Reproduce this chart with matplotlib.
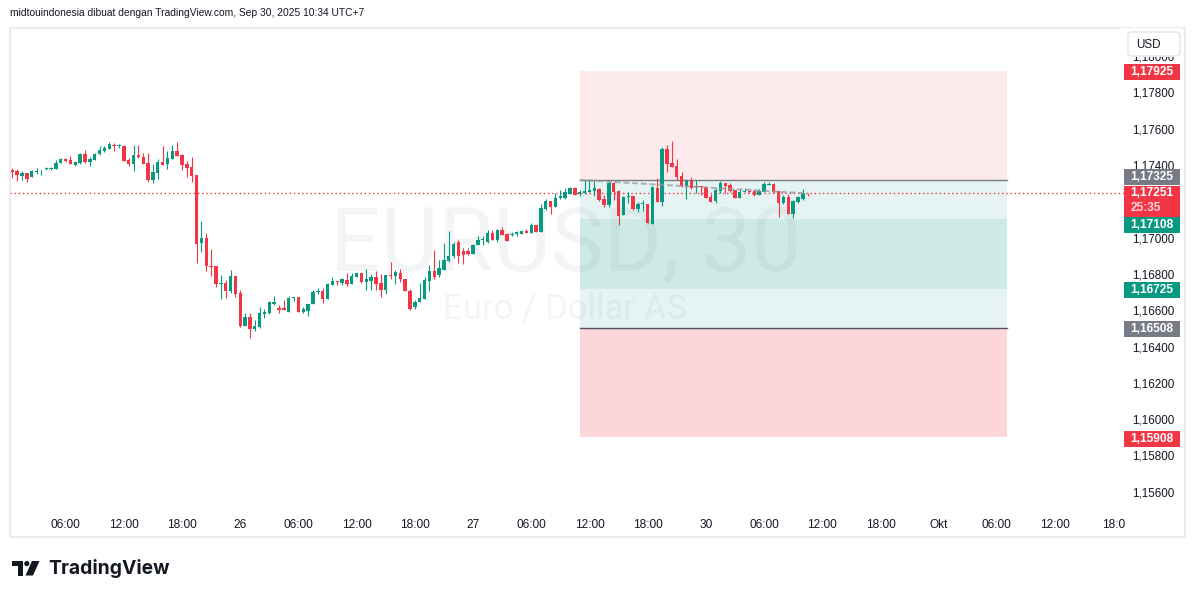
import numpy as np
import matplotlib.pyplot as plt
from matplotlib.patches import Rectangle, FancyBboxPatch, Polygon, Circle

plt.rcParams['font.family'] = ['Liberation Sans', 'DejaVu Sans']

# EURUSD 30 menit, 25 - 30 Sep 2025
open_ = [1.17380, 1.17375, 1.17349, 1.17364, 1.17340, 1.17367, 1.17373, 1.17385, 1.17386, 1.17387,
         1.17417, 1.17440, 1.17437, 1.17408, 1.17417, 1.17468, 1.17424, 1.17435, 1.17466, 1.17483,
         1.17496, 1.17518, 1.17512, 1.17514, 1.17435, 1.17415, 1.17463, 1.17452, 1.17419, 1.17327,
         1.17365, 1.17424, 1.17415, 1.17442, 1.17485, 1.17464, 1.17413, 1.17396, 1.17352, 1.16976,
         1.17006, 1.16853, 1.16851, 1.16752, 1.16758, 1.16716, 1.16796, 1.16703, 1.16523, 1.16571,
         1.16506, 1.16517, 1.16589, 1.16593, 1.16644, 1.16620, 1.16620, 1.16600, 1.16677, 1.16681,
         1.16600, 1.16604, 1.16640, 1.16707, 1.16712, 1.16672, 1.16749, 1.16767, 1.16760, 1.16774,
         1.16752, 1.16793, 1.16813, 1.16763, 1.16769, 1.16793, 1.16758, 1.16721, 1.16804, 1.16796,
         1.16815, 1.16780, 1.16712, 1.16627, 1.16652, 1.16668, 1.16767, 1.16824, 1.16800, 1.16829,
         1.16879, 1.16905, 1.16982, 1.16932, 1.16932, 1.16919, 1.16965, 1.16993, 1.16984, 1.17033,
         1.16992, 1.17048, 1.17028, 1.17024, 1.17029, 1.17029, 1.17046, 1.17035, 1.17077, 1.17040,
         1.17167, 1.17209, 1.17178, 1.17227, 1.17227, 1.17248, 1.17281, 1.17248, 1.17252, 1.17261,
         1.17266, 1.17275, 1.17220, 1.17187, 1.17308, 1.17264, 1.17134, 1.17233, 1.17237, 1.17164,
         1.17191, 1.17193, 1.17084, 1.17281, 1.17205, 1.17496, 1.17419, 1.17402, 1.17347, 1.17292,
         1.17321, 1.17286, 1.17294, 1.17288, 1.17233, 1.17211, 1.17266, 1.17310, 1.17299, 1.17270,
         1.17227, 1.17261, 1.17266, 1.17263, 1.17244, 1.17261, 1.17297, 1.17303, 1.17266, 1.17200,
         1.17233, 1.17136, 1.17205, 1.17222, 1.17255]
high = [1.17389, 1.17384, 1.17376, 1.17364, 1.17382, 1.17389, 1.17382, 1.17395, 1.17397, 1.17435,
        1.17446, 1.17446, 1.17457, 1.17431, 1.17474, 1.17490, 1.17453, 1.17475, 1.17512, 1.17512,
        1.17532, 1.17529, 1.17525, 1.17519, 1.17444, 1.17518, 1.17518, 1.17474, 1.17474, 1.17413,
        1.17441, 1.17512, 1.17485, 1.17519, 1.17534, 1.17470, 1.17430, 1.17452, 1.17352, 1.17099,
        1.17033, 1.16945, 1.16851, 1.16802, 1.16774, 1.16829, 1.16796, 1.16721, 1.16593, 1.16593,
        1.16554, 1.16626, 1.16613, 1.16659, 1.16686, 1.16637, 1.16664, 1.16686, 1.16681, 1.16681,
        1.16624, 1.16642, 1.16719, 1.16729, 1.16730, 1.16758, 1.16791, 1.16767, 1.16785, 1.16813,
        1.16813, 1.16813, 1.16813, 1.16837, 1.16809, 1.16824, 1.16809, 1.16802, 1.16873, 1.16829,
        1.16837, 1.16780, 1.16723, 1.16663, 1.16756, 1.16793, 1.16855, 1.16938, 1.16883, 1.16976,
        1.17044, 1.16982, 1.16993, 1.16949, 1.16949, 1.16974, 1.17015, 1.17015, 1.17050, 1.17050,
        1.17053, 1.17064, 1.17033, 1.17037, 1.17044, 1.17050, 1.17055, 1.17087, 1.17077, 1.17191,
        1.17222, 1.17209, 1.17252, 1.17270, 1.17281, 1.17286, 1.17286, 1.17268, 1.17325, 1.17329,
        1.17318, 1.17281, 1.17242, 1.17325, 1.17314, 1.17270, 1.17237, 1.17261, 1.17237, 1.17204,
        1.17216, 1.17193, 1.17292, 1.17336, 1.17508, 1.17519, 1.17540, 1.17442, 1.17369, 1.17332,
        1.17340, 1.17325, 1.17294, 1.17288, 1.17248, 1.17281, 1.17319, 1.17310, 1.17307, 1.17270,
        1.17274, 1.17281, 1.17266, 1.17274, 1.17274, 1.17314, 1.17314, 1.17310, 1.17266, 1.17244,
        1.17248, 1.17215, 1.17237, 1.17277, 1.17255]
low = [1.17338, 1.17321, 1.17327, 1.17316, 1.17340, 1.17356, 1.17351, 1.17382, 1.17382, 1.17387,
       1.17417, 1.17422, 1.17413, 1.17404, 1.17411, 1.17417, 1.17404, 1.17435, 1.17463, 1.17479,
       1.17496, 1.17486, 1.17503, 1.17431, 1.17404, 1.17376, 1.17448, 1.17415, 1.17314, 1.17307,
       1.17332, 1.17409, 1.17387, 1.17442, 1.17459, 1.17382, 1.17343, 1.17316, 1.16869, 1.16930,
       1.16826, 1.16796, 1.16734, 1.16668, 1.16677, 1.16703, 1.16682, 1.16517, 1.16523, 1.16453,
       1.16494, 1.16512, 1.16567, 1.16589, 1.16639, 1.16594, 1.16611, 1.16600, 1.16660, 1.16600,
       1.16594, 1.16578, 1.16640, 1.16699, 1.16650, 1.16672, 1.16749, 1.16749, 1.16749, 1.16741,
       1.16752, 1.16793, 1.16760, 1.16718, 1.16718, 1.16718, 1.16682, 1.16699, 1.16778, 1.16752,
       1.16765, 1.16712, 1.16607, 1.16613, 1.16652, 1.16668, 1.16712, 1.16778, 1.16789, 1.16829,
       1.16873, 1.16894, 1.16866, 1.16861, 1.16910, 1.16916, 1.16965, 1.16965, 1.16976, 1.16993,
       1.16985, 1.17020, 1.16988, 1.17018, 1.17018, 1.17026, 1.17035, 1.17035, 1.17040, 1.17040,
       1.17161, 1.17139, 1.17178, 1.17222, 1.17222, 1.17248, 1.17244, 1.17237, 1.17248, 1.17257,
       1.17237, 1.17211, 1.17178, 1.17175, 1.17215, 1.17077, 1.17134, 1.17197, 1.17160, 1.17150,
       1.17154, 1.17090, 1.17084, 1.17205, 1.17183, 1.17369, 1.17398, 1.17325, 1.17285, 1.17220,
       1.17275, 1.17256, 1.17242, 1.17227, 1.17205, 1.17200, 1.17255, 1.17255, 1.17261, 1.17227,
       1.17227, 1.17261, 1.17252, 1.17239, 1.17241, 1.17261, 1.17297, 1.17255, 1.17123, 1.17193,
       1.17136, 1.17117, 1.17197, 1.17215, 1.17237]
close = [1.17369, 1.17354, 1.17364, 1.17332, 1.17373, 1.17373, 1.17376, 1.17391, 1.17391, 1.17420,
         1.17440, 1.17431, 1.17413, 1.17424, 1.17468, 1.17424, 1.17440, 1.17468, 1.17490, 1.17499,
         1.17523, 1.17512, 1.17518, 1.17431, 1.17415, 1.17463, 1.17453, 1.17415, 1.17327, 1.17369,
         1.17424, 1.17409, 1.17446, 1.17485, 1.17459, 1.17409, 1.17393, 1.17349, 1.16975, 1.17006,
         1.16853, 1.16848, 1.16754, 1.16756, 1.16716, 1.16796, 1.16699, 1.16523, 1.16571, 1.16506,
         1.16521, 1.16593, 1.16600, 1.16653, 1.16653, 1.16609, 1.16611, 1.16677, 1.16681, 1.16600,
         1.16613, 1.16642, 1.16708, 1.16716, 1.16672, 1.16752, 1.16769, 1.16763, 1.16780, 1.16752,
         1.16796, 1.16813, 1.16765, 1.16780, 1.16793, 1.16752, 1.16721, 1.16802, 1.16798, 1.16818,
         1.16778, 1.16712, 1.16613, 1.16652, 1.16675, 1.16773, 1.16824, 1.16789, 1.16839, 1.16883,
         1.16907, 1.16973, 1.16905, 1.16910, 1.16919, 1.16969, 1.16995, 1.16999, 1.17033, 1.16993,
         1.17048, 1.17020, 1.16991, 1.17029, 1.17037, 1.17046, 1.17035, 1.17077, 1.17040, 1.17171,
         1.17209, 1.17178, 1.17226, 1.17237, 1.17259, 1.17281, 1.17244, 1.17261, 1.17263, 1.17270,
         1.17281, 1.17215, 1.17187, 1.17307, 1.17259, 1.17128, 1.17230, 1.17239, 1.17167, 1.17193,
         1.17197, 1.17090, 1.17286, 1.17205, 1.17496, 1.17415, 1.17398, 1.17341, 1.17292, 1.17321,
         1.17281, 1.17292, 1.17288, 1.17227, 1.17205, 1.17270, 1.17310, 1.17294, 1.17266, 1.17227,
         1.17261, 1.17266, 1.17261, 1.17244, 1.17266, 1.17303, 1.17303, 1.17259, 1.17200, 1.17233,
         1.17136, 1.17209, 1.17233, 1.17255, 1.17251]

tick_pos = [11, 23, 35, 47, 59, 71, 83, 95, 107, 119, 131, 143, 155, 167, 179, 191, 203, 215, 227]
tick_lbl = ['06:00', '12:00', '18:00', '26', '06:00', '12:00', '18:00', '27', '06:00', '12:00',
            '18:00', '30', '06:00', '12:00', '18:00', 'Okt', '06:00', '12:00', '18:0']
price_ticks = [1.180, 1.178, 1.176, 1.174, 1.170, 1.168, 1.166, 1.164, 1.162, 1.160, 1.158, 1.156]

# alat posisi
pos_start, pos_end = 117, 205
stop_top = 1.17925
entry = 1.17325
tp_a = 1.17108
tp_b = 1.16725
entry_b = 1.16508
stop_bottom = 1.15908
last_price = 1.17251
countdown = '25:35'

GREEN = '#089981'
RED = '#f23645'
TXT = '#131722'

fig = plt.figure(figsize=(11.95, 5.98), dpi=100)
ax = fig.add_axes([10 / 1195, 88 / 598, 1108 / 1195, 482 / 598])
ax.set_xlim(-0.47, 227.98)
ax.set_ylim(1.155082, 1.181617)
for s in ax.spines.values():
    s.set_visible(False)
ax.set_yticks([])
ax.set_xticks(tick_pos, tick_lbl)
ax.tick_params(axis='x', length=0, pad=6.5, labelsize=8.6, labelcolor=TXT)

deco = fig.add_axes([0, 0, 1, 1], zorder=10)
deco.set_xlim(0, 1195)
deco.set_ylim(598, 0)
deco.axis('off')
deco.patch.set_alpha(0)

# watermark
ax.text(566, 246, 'EURUSD, 30', transform=deco.transData, ha='center', va='center',
        fontsize=64, color='#f3f4f6', family='Roboto', zorder=1)
ax.text(565, 309, 'Euro / Dollar AS', transform=deco.transData, ha='center', va='center',
        fontsize=25, color='#f3f4f6', family='Roboto', zorder=1)

# zona posisi
zones = [(entry, stop_top, RED, 0.10), (tp_a, entry, GREEN, 0.10), (tp_b, tp_a, GREEN, 0.20),
         (entry_b, tp_b, GREEN, 0.10), (stop_bottom, entry_b, RED, 0.20)]
for lo, hi, colr, a in zones:
    ax.add_patch(Rectangle((pos_start, lo), pos_end - pos_start, hi - lo,
                           facecolor=colr, alpha=a, linewidth=0, zorder=2))
ax.plot([pos_start, pos_end], [entry, entry], color='#787b86', lw=1, zorder=3)
ax.plot([pos_start, pos_end], [entry_b, entry_b], color='#50535e', lw=1, zorder=3)

# garis harga terakhir
ax.plot([-0.47, 229.2], [last_price, last_price], color=RED, lw=1.0,
        ls=(0, (1, 2)), zorder=3, clip_on=False)

# candle
x = np.arange(len(close))
o = np.array(open_)
c = np.array(close)
h = np.array(high)
l = np.array(low)
cols = np.where(c >= o, GREEN, RED)
ax.vlines(x, l, h, colors=cols, linewidth=0.8, zorder=4)
ax.bar(x, np.maximum(np.abs(c - o), 0.00004), bottom=np.minimum(o, c), width=0.7,
       color=cols, linewidth=0, zorder=5)

# garis putus-putus dari entry ke harga terakhir
ax.plot([pos_start, x[-1]], [entry, close[-1]], color='#9598a1', alpha=0.75, lw=1.4,
        ls=(0, (3, 1.5)), zorder=6)


def price_px(p):
    return fig.bbox.height - ax.transData.transform((0, p))[1]


# skala harga
for p in price_ticks:
    deco.text(1132.5, price_px(p), f'{p:.5f}'.replace('.', ','), ha='left', va='center',
              fontsize=8.4, color=TXT, zorder=3)

deco.add_patch(Rectangle((1120, 28), 62, 28.5, facecolor='white', lw=0, zorder=5))
deco.add_patch(FancyBboxPatch((1128, 32), 52, 24, boxstyle='round,pad=0,rounding_size=4',
                              facecolor='white', edgecolor='#e0e3eb', lw=1, zorder=6))
deco.text(1136.5, 44.5, 'USD', ha='left', va='center', fontsize=8.4, color=TXT, zorder=7)

labels = [(stop_top, RED, 1), (entry, '#787b86', -3), (tp_a, GREEN, 6),
          (tp_b, GREEN, 1.5), (entry_b, '#787b86', 0.8), (stop_bottom, RED, 1.3)]
for p, colr, nudge in labels:
    cy = price_px(p) + nudge
    deco.add_patch(Rectangle((1124, cy - 8), 56, 16, facecolor=colr, lw=0, zorder=5))
    deco.text(1130.5, cy, f'{p:.5f}'.replace('.', ','), ha='left', va='center',
              fontsize=8.6, color='white', fontweight='bold', zorder=7)
cy = price_px(last_price)
deco.add_patch(Rectangle((1124, cy - 7.5), 56, 31, facecolor=RED, lw=0, zorder=5))
deco.text(1130.5, cy, f'{last_price:.5f}'.replace('.', ','), ha='left', va='center',
          fontsize=8.6, color='white', fontweight='bold', zorder=7)
deco.text(1130.5, cy + 15, countdown, ha='left', va='center', fontsize=8.6,
          color='white', alpha=0.8, fontweight='bold', zorder=7)

# bingkai
deco.add_patch(Rectangle((10, 28), 1175, 509, facecolor='none', edgecolor='#e6e8ee', lw=1.2,
                         zorder=4))

# judul
deco.text(10, 12.5, 'midtouindonesia dibuat dengan TradingView.com, Sep 30, 2025 10:34 UTC+7',
          ha='left', va='center', fontsize=7.4, color=TXT)

# logo
deco.add_patch(Polygon([(12.5, 561), (23, 561), (23, 575.5), (18, 575.5), (18, 566), (12.5, 566)],
                       closed=True, facecolor=TXT, lw=0))
deco.add_patch(Circle((26.8, 563.6), 2.6, facecolor=TXT, lw=0))
deco.add_patch(Polygon([(32, 561), (39.5, 561), (33, 575.5), (25.5, 575.5)],
                       closed=True, facecolor=TXT, lw=0))
deco.text(48.5, 568.5, 'TradingView', ha='left', va='center', fontsize=13.9,
          fontweight='bold', color=TXT, family='Inter')

fig.savefig('out.png', dpi=100)
